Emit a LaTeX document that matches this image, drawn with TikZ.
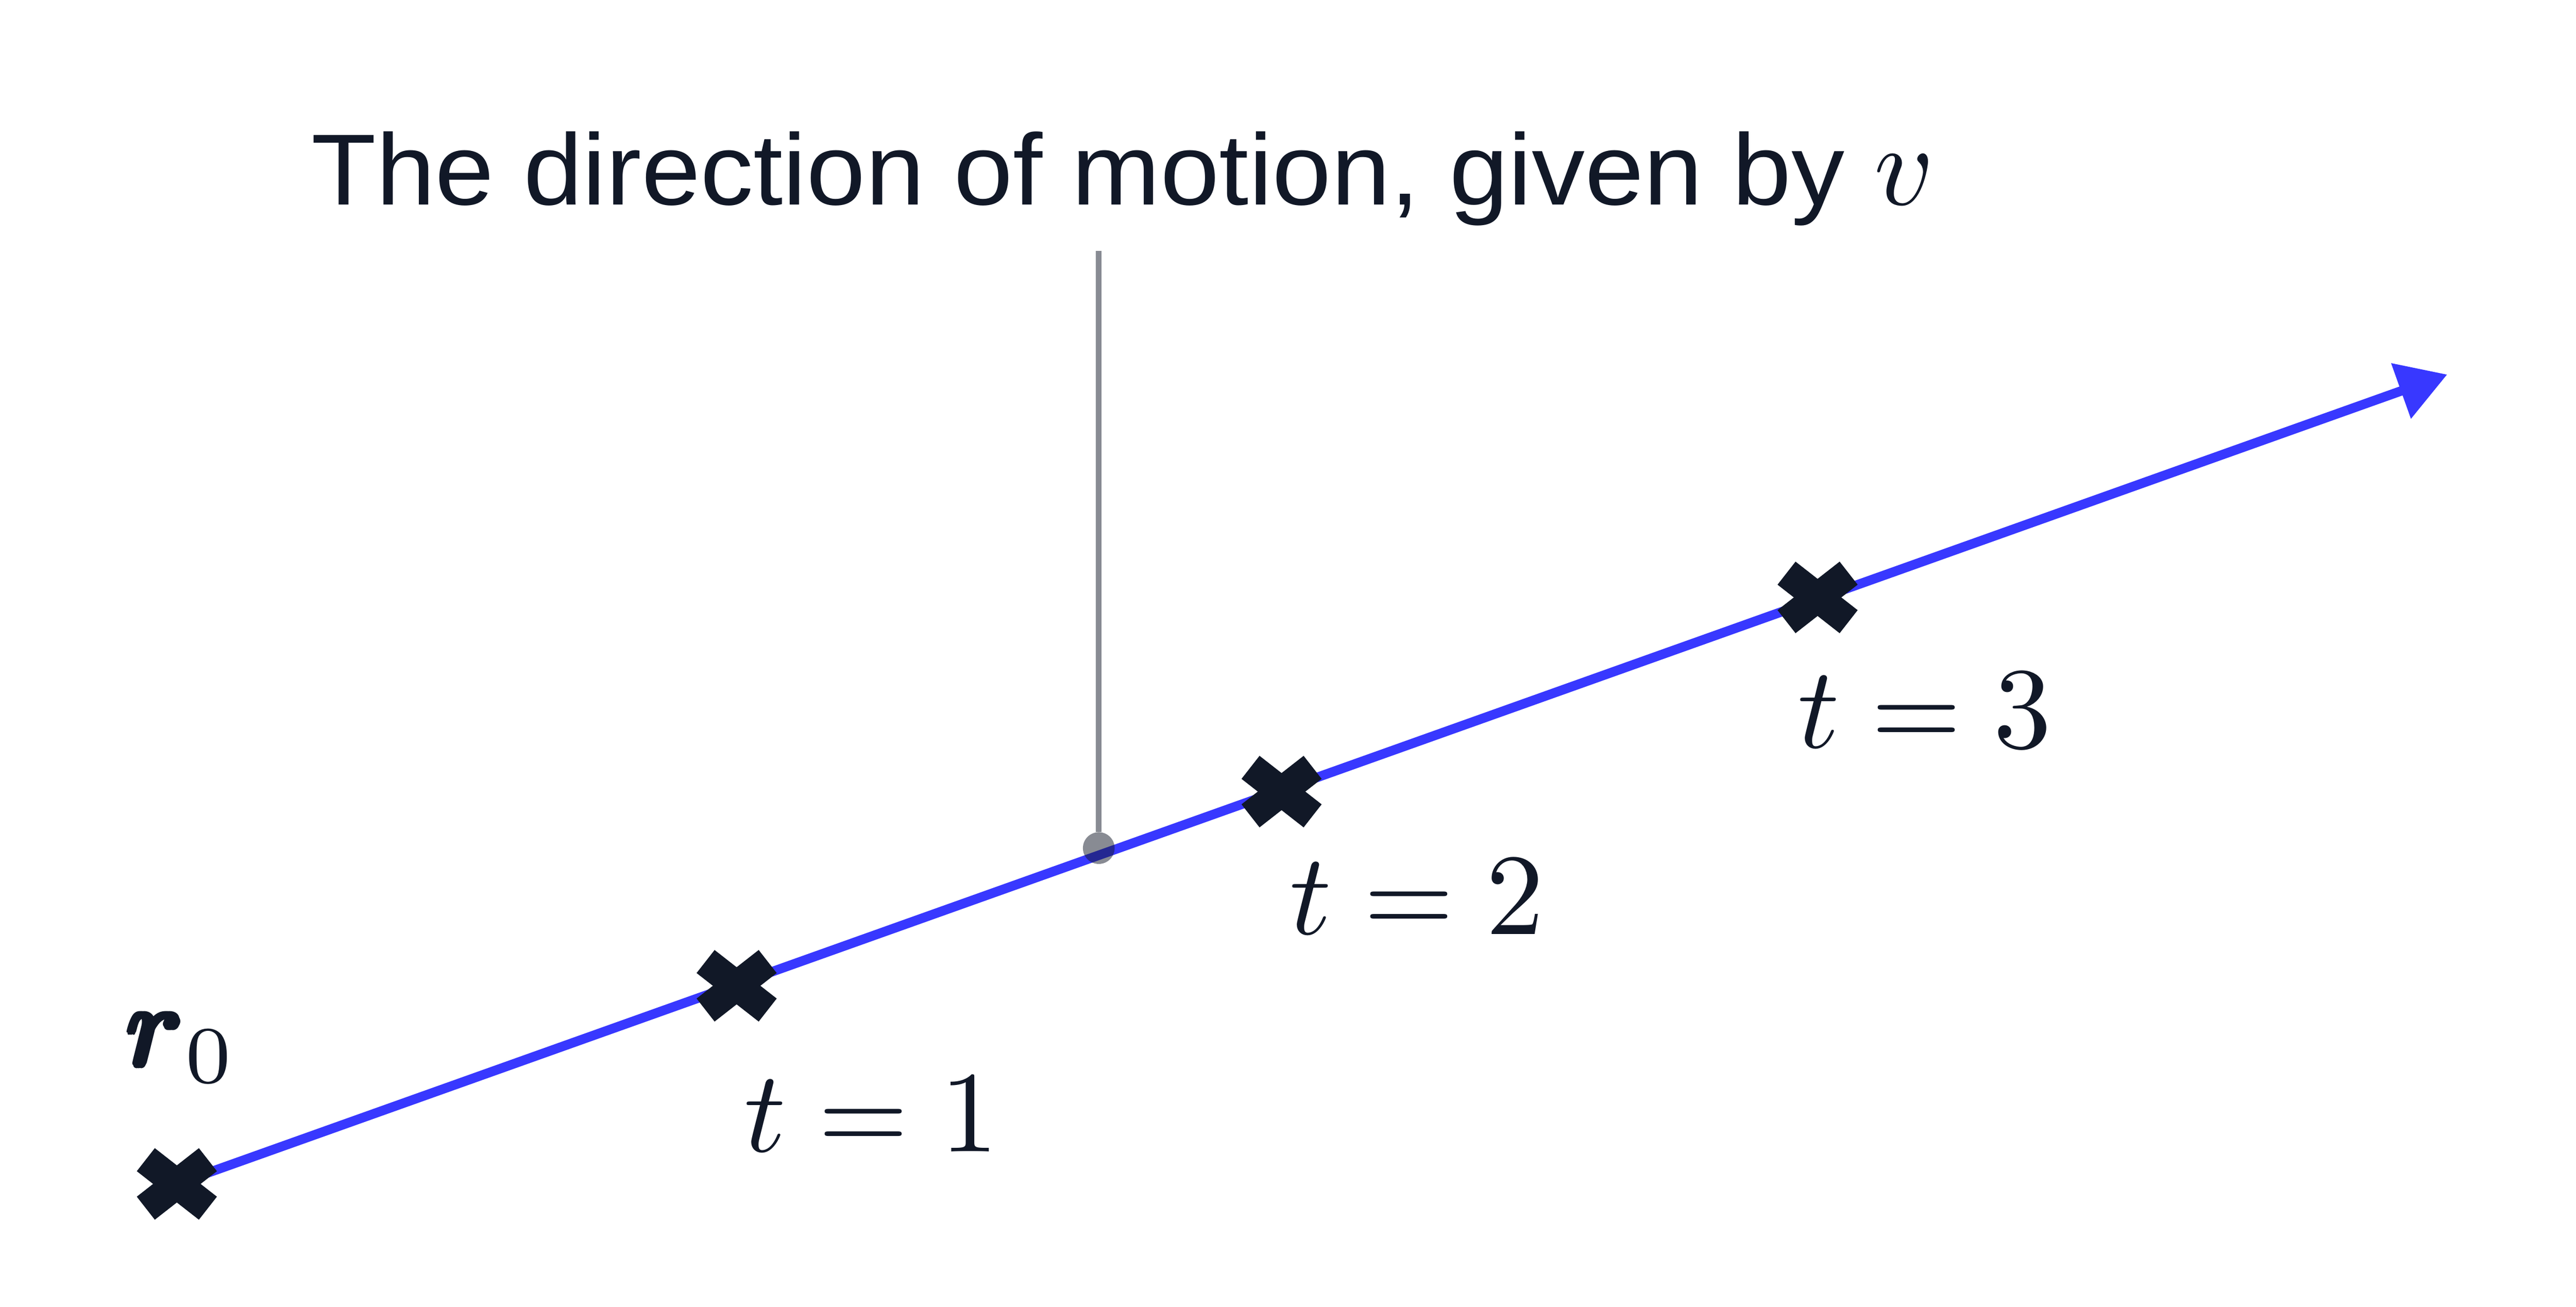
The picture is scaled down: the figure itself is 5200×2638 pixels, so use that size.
\documentclass[tikz,border=0pt]{standalone}
\usepackage{fix-cm}
\usepackage[no-math]{fontspec}
\setmainfont{Liberation Sans}[FakeStretch=1.05]
\usetikzlibrary{arrows.meta}
\definecolor{ink}{HTML}{111827}
\definecolor{motion}{HTML}{3838FF}
\newcommand{\bigmath}[1]{\scalebox{6.65}{\fontsize{10}{12}\selectfont$#1$}}
\newcommand{\rcopy}[2]{\makebox[0pt][l]{\raisebox{#2}{\kern#1$r$}}}
\newcommand{\fatr}{\rcopy{0pt}{0pt}\rcopy{0.15pt}{0pt}\rcopy{0.3pt}{0pt}\rcopy{0.45pt}{0pt}\rcopy{0.6pt}{0pt}%
\rcopy{0.1pt}{0.2pt}\rcopy{0.3pt}{0.2pt}\rcopy{0.5pt}{0.2pt}%
\rcopy{0.1pt}{-0.2pt}\rcopy{0.3pt}{-0.2pt}\rcopy{0.5pt}{-0.2pt}%
\rcopy{0.2pt}{0.1pt}\rcopy{0.4pt}{-0.1pt}\kern0.55pt$r$}
\begin{document}
\begin{tikzpicture}[x=0.01cm, y=-0.01cm,
  arm/.style={fill=ink, draw=none, inner sep=0pt, minimum width=1.59cm, minimum height=0.59cm},
  titletext/.style={font=\fontsize{58}{70}\selectfont, text=ink, inner sep=0pt, anchor=base west},
  mathlabel/.style={text=ink, inner sep=0pt, anchor=base west},
  motionline/.style={draw=motion, line width=0.19cm, -{Triangle[length=0.99cm,width=1.14cm]}},
  guide/.style={draw=ink, draw opacity=0.5, line width=0.12cm},
  guidedot/.style={fill=ink, fill opacity=0.5, draw=none, circle, inner sep=0pt, minimum size=0.64cm}]
\useasboundingbox (0,0) rectangle (5200,2638);
\coordinate (r0) at (357,2390);
\coordinate (p1) at (1487,1990);
\coordinate (p2) at (2587,1598);
\coordinate (p3) at (3669,1206);
\coordinate (tip) at (4940,756);
\coordinate (guidetop) at (2218,506);
% motion line
\draw[motionline] (r0) -- (tip);
% guide
\node[guidedot] (dot) at (2218,1712) {};
\draw[guide] (guidetop) -- (dot.north);
% crosses
\foreach \p in {r0,p1,p2,p3} {
  \node[arm, rotate=38] (\p-a) at (\p) {};
  \node[arm, rotate=-38] (\p-b) at (\p) {};
}
% labels
\node[titletext] (title) at (628,413) {The direction of motion, given by \bigmath{v}};
\node[mathlabel] (lr0) at (248,2150) {\bigmath{\mathord{\hbox{\fatr}}_0}};
\node[mathlabel] (l1) at (1502,2325) {\bigmath{t=1}};
\node[mathlabel] (l2) at (2603,1886) {\bigmath{t=2}};
\node[mathlabel] (l3) at (3628,1510) {\bigmath{t=3}};
\end{tikzpicture}
\end{document}
